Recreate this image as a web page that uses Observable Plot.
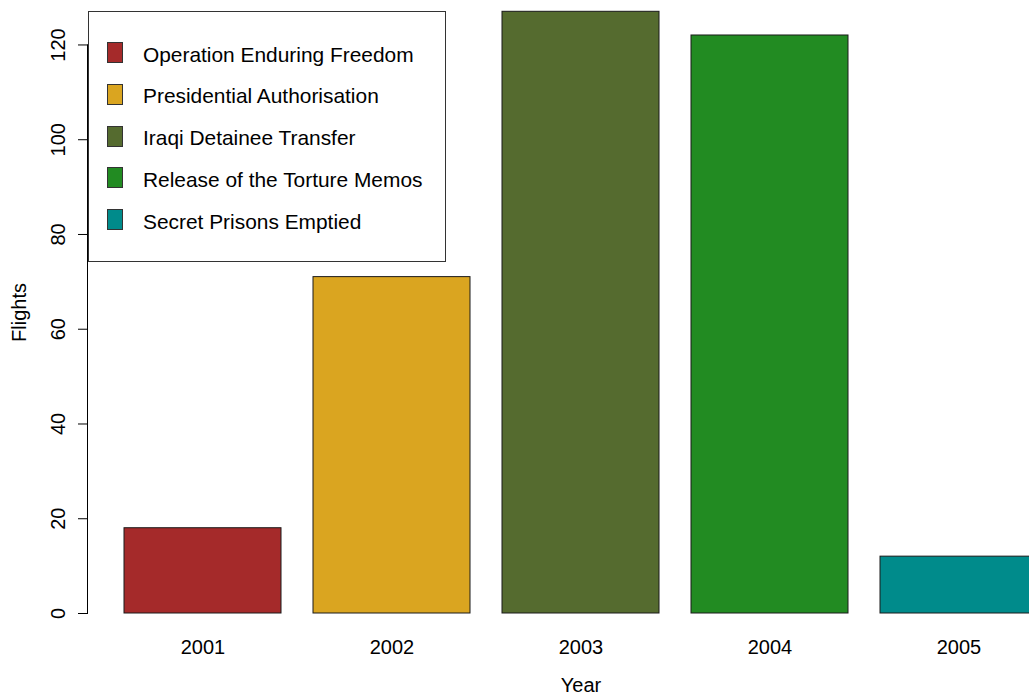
<!DOCTYPE html>
<html>
<head>
<meta charset="utf-8">
<script src="https://cdn.jsdelivr.net/npm/d3@7"></script>
<script src="https://cdn.jsdelivr.net/npm/@observablehq/plot@0.6"></script>
<style>
  html, body { margin: 0; padding: 0; background: #fff; overflow: hidden; }
  #wrap { position: relative; width: 1029px; height: 695px; overflow: hidden; }
  #wrap svg { overflow: hidden; }
  .legend { position: absolute; left: 88px; top: 11px; width: 358px; height: 251px;
    border: 1px solid #333; box-sizing: border-box; background: #fff;
    font-family: "Liberation Sans", Arial, Helvetica, sans-serif; font-size: 20.9px; color: #000; }
  .sw { position: absolute; left: 18px; width: 16px; height: 21px; border: 1px solid #333; box-sizing: border-box; }
  .lt { position: absolute; left: 54px; height: 21px; line-height: 21px; white-space: nowrap; }
</style>
</head>
<body>
<div id="wrap"></div>
<script>
const years = ["2001", "2002", "2003", "2004", "2005"];
const flights = [18, 71, 127, 122, 12];
const colors = ["#A52A2A", "#DAA520", "#556B2F", "#228B22", "#008B8B"];
const events = ["Operation Enduring Freedom", "Presidential Authorisation", "Iraqi Detainee Transfer", "Release of the Torture Memos", "Secret Prisons Emptied"];
const yTicks = [0, 20, 40, 60, 80, 100, 120];

const data = years.map((y, i) => ({year: y, flights: flights[i], color: colors[i]}));

const spine = (index, scales, values, dims) => {
  const g = d3.create("svg:g");
  g.append("line")
    .attr("x1", dims.marginLeft - 0.5).attr("x2", dims.marginLeft - 0.5)
    .attr("y1", scales.y(yTicks[0])).attr("y2", scales.y(yTicks[yTicks.length - 1]))
    .attr("stroke", "#000").attr("stroke-width", 1);
  return g.node();
};

const chart = Plot.plot({
  width: 1029,
  height: 695,
  marginLeft: 88,
  marginTop: 11,
  marginBottom: 82,
  marginRight: 0,
  style: {fontFamily: "Liberation Sans, Arial, Helvetica, sans-serif", fontSize: "20px", color: "#000", background: "#fff"},
  x: {type: "band", domain: years, range: [91, 1070], padding: 0.1667, align: 0.5, axis: null},
  y: {domain: [0, 127], range: [613, 11.3], axis: null},
  color: {type: "identity"},
  marks: [
    Plot.barY(data, {x: "year", y: "flights", fill: "color", stroke: "#1a1a1a", strokeWidth: 1}),
    Plot.axisY({ticks: yTicks, tickSize: 10, tickFormat: () => "", label: null, anchor: "left"}),
    spine,
    Plot.text(yTicks, {y: d => d, text: d => String(d), frameAnchor: "left", dx: -30, rotate: -90, textAnchor: "middle", lineAnchor: "middle", fontSize: 20}),
    Plot.text(years, {x: d => d, text: d => d, frameAnchor: "bottom", dy: 34, lineAnchor: "middle", fontSize: 20}),
    Plot.text(["Flights"], {text: d => d, frameAnchor: "left", dx: -69, rotate: -90, textAnchor: "middle", lineAnchor: "middle", fontSize: 20}),
    Plot.text(["Year"], {x: () => years[Math.floor(years.length / 2)], text: d => d, frameAnchor: "bottom", dy: 72, lineAnchor: "middle", fontSize: 20})
  ]
});

const wrap = document.getElementById("wrap");
wrap.appendChild(chart);

const legend = document.createElement("div");
legend.className = "legend";
events.forEach((ev, i) => {
  const top = 30 + i * 41.75;
  const sw = document.createElement("div");
  sw.className = "sw";
  sw.style.top = top + "px";
  sw.style.background = colors[i];
  legend.appendChild(sw);
  const t = document.createElement("div");
  t.className = "lt";
  t.style.top = (top + 1.5) + "px";
  t.textContent = ev;
  legend.appendChild(t);
});
wrap.appendChild(legend);
</script>
</body>
</html>
